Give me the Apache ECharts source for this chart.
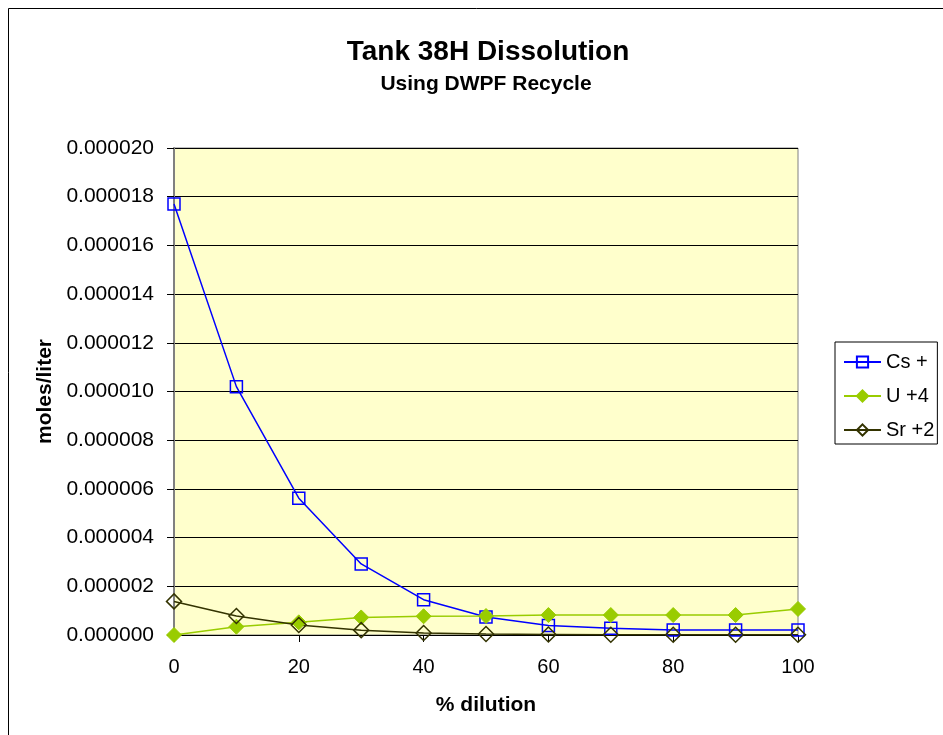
<!DOCTYPE html>
<html>
<head>
<meta charset="utf-8">
<script src="https://cdn.jsdelivr.net/npm/echarts@6/dist/echarts.min.js"></script>
<style>
  html, body { margin: 0; padding: 0; background: #ffffff; }
  #chart { width: 943px; height: 735px; }
</style>
</head>
<body>
<div id="chart"></div>
<script>
// % dilution steps
const dilution = [0, 10, 20, 30, 40, 50, 60, 70, 80, 90, 100];
// concentrations, moles/liter
const csValues = [0.0000177, 0.0000102, 0.00000562, 0.00000292, 0.00000145, 0.00000074, 0.00000039, 0.00000028, 0.00000021, 0.00000021, 0.00000021];
const uValues  = [0.0, 0.00000034, 0.00000052, 0.00000072, 0.00000077, 0.00000078, 0.00000082, 0.00000082, 0.00000082, 0.00000082, 0.00000107];
const srValues = [0.00000138, 0.00000078, 0.00000041, 0.0000002, 0.00000008, 0.00000004, 0.00000002, 0.00000001, 0.00000001, 0.00000001, 0.00000001];
const seriesNames = ['Cs +', 'U +4', 'Sr +2'];

const pairs = vals => dilution.map((x, i) => [x, vals[i]]);
const font = 'Arial, "Liberation Sans", sans-serif';

const chart = echarts.init(document.getElementById('chart'), null, { renderer: 'canvas' });
chart.setOption({
  backgroundColor: '#ffffff',
  animation: false,
  graphic: [{
    type: 'rect',
    shape: { x: 8.5, y: 8.5, width: 1000, height: 1000 },
    style: { fill: 'none', stroke: '#000000', lineWidth: 1 },
    silent: true
  }],
  title: [{
    text: 'Tank 38H Dissolution',
    left: 483, top: 33, textAlign: 'center',
    textStyle: { fontFamily: font, fontSize: 28, fontWeight: 'bold', color: '#000' }
  }, {
    text: 'Using DWPF Recycle',
    left: 481, top: 69, textAlign: 'center',
    textStyle: { fontFamily: font, fontSize: 21, fontWeight: 'bold', color: '#000' }
  }],
  legend: {
    orient: 'vertical',
    left: 835, top: 342,
    backgroundColor: '#ffffff',
    borderColor: '#000000', borderWidth: 1,
    padding: [10, 3, 4, 8],
    itemWidth: 37, itemHeight: 14, itemGap: 14,
    textStyle: { fontFamily: font, fontSize: 20, color: '#000' },
    data: seriesNames
  },
  grid: {
    left: 174, right: 145, top: 148, bottom: 100,
    show: true, backgroundColor: '#FFFFCC', borderColor: '#808080', borderWidth: 1
  },
  xAxis: {
    type: 'value', min: 0, max: 100, interval: 20,
    name: '% dilution', nameLocation: 'middle', nameGap: 60,
    nameTextStyle: { fontFamily: font, fontSize: 21, fontWeight: 'bold', color: '#000' },
    axisLine: { show: true, lineStyle: { color: '#000', width: 1 } },
    axisTick: { show: true, length: 7, lineStyle: { color: '#000' } },
    axisLabel: { fontFamily: font, fontSize: 20, color: '#000', margin: 22 },
    splitLine: { show: false }
  },
  yAxis: {
    type: 'value', min: 0, max: 0.00002, interval: 0.000002,
    name: 'moles/liter', nameLocation: 'middle', nameGap: 118,
    nameTextStyle: { fontFamily: font, fontSize: 21, fontWeight: 'bold', color: '#000' },
    axisLine: { show: true, lineStyle: { color: '#808080', width: 2 } },
    axisTick: { show: true, length: 7, lineStyle: { color: '#000' } },
    axisLabel: { fontFamily: font, fontSize: 21, color: '#000', margin: 20,
      formatter: v => v.toFixed(6) },
    splitLine: { show: true, lineStyle: { color: '#000', width: 1 } }
  },
  series: [{
    name: seriesNames[0], type: 'line', data: pairs(csValues),
    symbol: 'rect', symbolSize: 12,
    lineStyle: { color: '#0000FF', width: 1.5 },
    itemStyle: { color: 'rgba(0,0,0,0)', borderColor: '#0000FF', borderWidth: 1.5 }
  }, {
    name: seriesNames[1], type: 'line', data: pairs(uValues),
    symbol: 'diamond', symbolSize: 15,
    lineStyle: { color: '#99CC00', width: 1.5 },
    itemStyle: { color: '#99CC00', borderColor: '#99CC00', borderWidth: 1 }
  }, {
    name: seriesNames[2], type: 'line', data: pairs(srValues),
    symbol: 'diamond', symbolSize: 15,
    lineStyle: { color: '#333300', width: 1.5 },
    itemStyle: { color: 'rgba(0,0,0,0)', borderColor: '#333300', borderWidth: 1.5 }
  }]
});
</script>
</body>
</html>
